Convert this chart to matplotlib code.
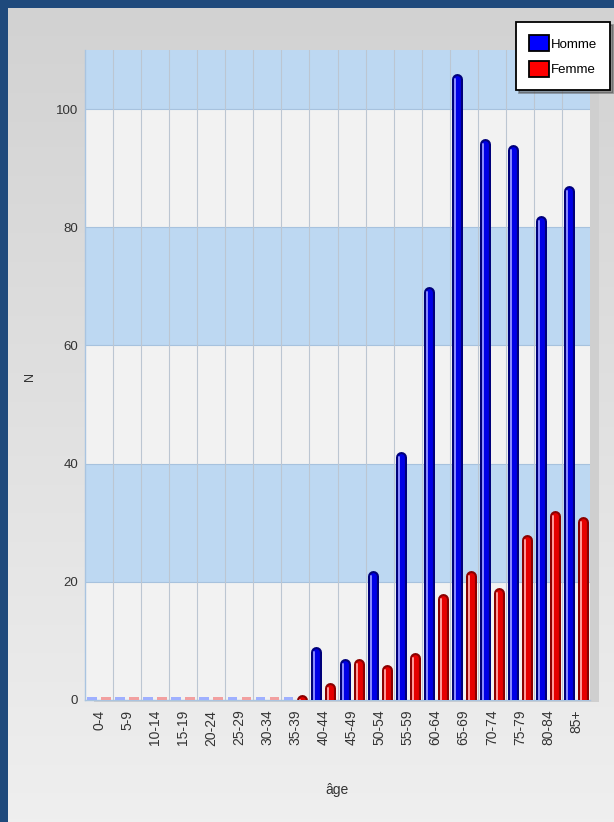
import numpy as np
import matplotlib
matplotlib.use('Agg')
import matplotlib.pyplot as plt
from matplotlib.patches import Rectangle, Patch

plt.rcParams['font.family'] = ['Liberation Sans', 'DejaVu Sans']

# ── Data ──────────────────────────────────────────────────────────────────────
age_groups = ['0-4', '5-9', '10-14', '15-19', '20-24', '25-29', '30-34', '35-39',
              '40-44', '45-49', '50-54', '55-59', '60-64', '65-69', '70-74',
              '75-79', '80-84', '85+']
homme = [0, 0, 0, 0, 0, 0, 0, 0, 9, 7, 22, 42, 70, 106, 95, 94, 82, 87]
femme = [0, 0, 0, 0, 0, 0, 0, 1, 3, 7, 6, 8, 18, 22, 19, 28, 32, 31]
y_ticks = [0, 20, 40, 60, 80, 100]

# ── Figure ────────────────────────────────────────────────────────────────────
W, H, DPI = 614, 822, 100
fig = plt.figure(figsize=(W / DPI, H / DPI), dpi=DPI)
fig.patch.set_facecolor('#1f4a7c')

# grey gradient panel behind everything
bg = fig.add_axes([8 / W, 0, 1 - 8 / W, 1 - 8 / H], zorder=-10)
grad = np.linspace(0, 1, 256).reshape(-1, 1)
bg.imshow(grad, aspect='auto', cmap=matplotlib.colors.LinearSegmentedColormap.from_list(
    'bg', ['#d2d2d2', '#efefef']), extent=[0, 1, 0, 1], origin='upper')
bg.set_axis_off()

left, right, top, bottom = 85, 590, 50, 700
ax_rect = [left / W, 1 - bottom / H, (right - left) / W, (bottom - top) / H]

# drop shadow of the plot area
fig.patches.append(Rectangle((ax_rect[0] + 9 / W, ax_rect[1] - 2 / H), ax_rect[2], ax_rect[3],
                             transform=fig.transFigure, facecolor='#cfcfcf',
                             edgecolor='none', zorder=-5))

ax = fig.add_axes(ax_rect)
ymax = 110
ax.set_xlim(-0.5, len(age_groups) - 0.5)
ax.set_ylim(0, ymax)
ax.set_facecolor('#f2f2f2')

# alternating horizontal bands
for lo in [20, 60, 100]:
    ax.axhspan(lo, min(lo + 20, ymax), color='#bdd8f2', zorder=0, lw=0)
for yv in y_ticks[1:]:
    ax.axhline(yv, color='#a7c2de', lw=0.8, zorder=0.5)
for xv in np.arange(0.5, len(age_groups) - 0.5, 1):
    ax.axvline(xv, color='#bcc6d2', lw=0.8, zorder=0.5)

# bars drawn as rounded-top cylinders
bar_px = 11
px_per_unit = (bottom - top) / ymax
r = (bar_px / 2) / px_per_unit
lw_pt = bar_px * 72 / DPI
x = np.arange(len(age_groups))
off = 0.25
hl = 2.0 / ((right - left) / len(age_groups))

series = [
    (x - off, homme, '#00007a', '#0000e6', '#8a8aff', '#9fb0ff'),
    (x + off, femme, '#8a0000', '#e60000', '#ff9a9a', '#f2a0a0'),
]
for xs, vals, dark, mid, light, empty in series:
    vals = np.array(vals, dtype=float)
    nz = vals > 0
    tops = vals[nz] - r
    ax.vlines(xs[nz], -2, tops, colors=dark, linewidth=lw_pt, capstyle='round', zorder=3)
    ax.vlines(xs[nz], -2, tops, colors=mid, linewidth=lw_pt * 0.62, capstyle='round', zorder=4)
    ax.vlines(xs[nz] - hl, -2, tops, colors=light, linewidth=lw_pt * 0.18,
              capstyle='round', zorder=5)
    # empty groups shown as faint stubs on the baseline
    ax.bar(xs[~nz], 0.45, width=0.34, color=empty, zorder=3, lw=0)

for s in ['top', 'right']:
    ax.spines[s].set_visible(False)
for s in ['left', 'bottom']:
    ax.spines[s].set_color('#a9c4e0')
    ax.spines[s].set_linewidth(1)

ax.set_yticks(y_ticks)
ax.set_yticklabels([str(v) for v in y_ticks], fontsize=9.5, color='#333333')
ax.set_xticks(x)
ax.set_xticklabels(age_groups, rotation=90, fontsize=10, color='#333333')
ax.tick_params(length=0, axis='y', pad=5)
ax.tick_params(length=0, axis='x', pad=7)

fig.text(30 / W, 1 - 376 / H, 'N', rotation=90, fontsize=9, color='#333333',
         ha='center', va='center')
fig.text(337 / W, 1 - 790 / H, 'âge', fontsize=10, color='#333333',
         ha='center', va='center')

handles = [Patch(facecolor='#0000ff', edgecolor='black', lw=1.3),
           Patch(facecolor='#ff0000', edgecolor='black', lw=1.3)]
leg = fig.legend(handles, ['Homme', 'Femme'], loc='upper right',
                 bbox_to_anchor=(610 / W, 1 - 22 / H), fontsize=9.5,
                 frameon=True, fancybox=False, shadow=True, edgecolor='black',
                 handlelength=1.5, handleheight=1.5, handletextpad=0.1,
                 labelspacing=0.7, borderpad=1.0, borderaxespad=0)
leg.get_frame().set_linewidth(1.3)

plt.savefig('out.png', dpi=DPI, facecolor=fig.get_facecolor())
plt.close()
